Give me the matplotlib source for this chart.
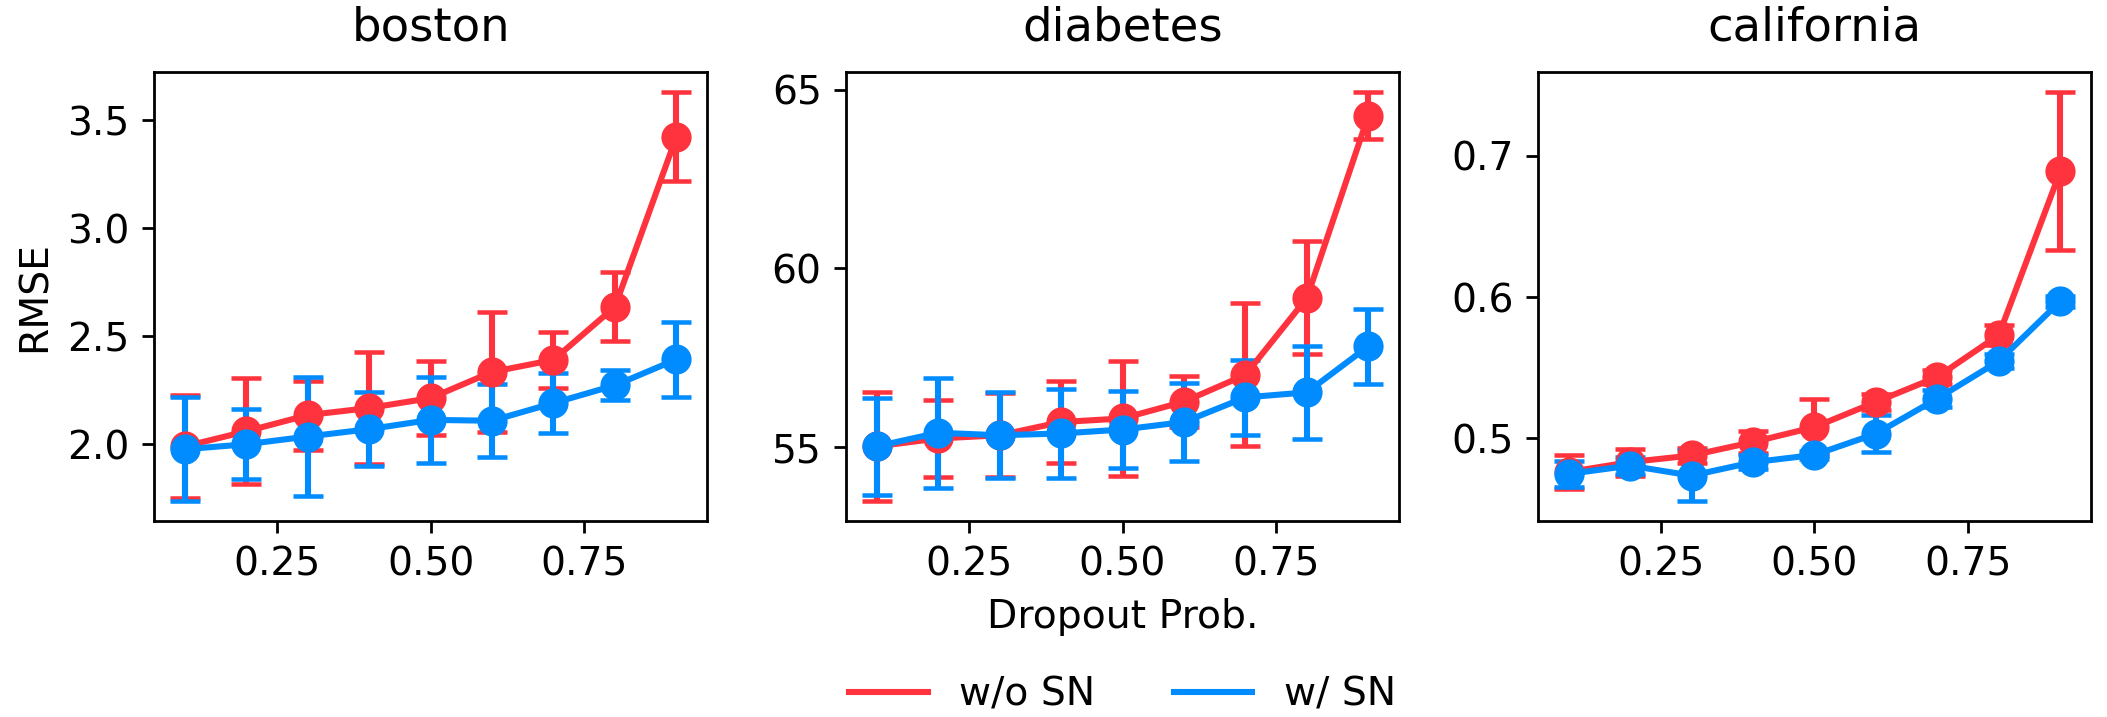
import matplotlib
matplotlib.use("Agg")
import matplotlib.pyplot as plt
from matplotlib.lines import Line2D
import numpy as np

# dropout probabilities
drop_p = [0.1, 0.2, 0.3, 0.4, 0.5, 0.6, 0.7, 0.8, 0.9]

# boston
boston_wo = [1.99, 2.06, 2.135, 2.168, 2.214, 2.335, 2.391, 2.637, 3.425]
boston_wo_err = [0.24, 0.245, 0.16, 0.26, 0.17, 0.28, 0.13, 0.16, 0.205]
boston_w = [1.977, 2.0, 2.036, 2.07, 2.113, 2.109, 2.191, 2.273, 2.393]
boston_w_err = [0.24, 0.163, 0.275, 0.17, 0.2, 0.17, 0.14, 0.07, 0.172]

# diabetes
diab_wo = [55.02, 55.24, 55.33, 55.7, 55.8, 56.27, 57.02, 59.17, 64.27]
diab_wo_err = [1.53, 1.08, 1.17, 1.15, 1.6, 0.72, 2.0, 1.58, 0.65]
diab_w = [55.02, 55.4, 55.33, 55.38, 55.49, 55.7, 56.39, 56.53, 57.82]
diab_w_err = [1.35, 1.54, 1.2, 1.24, 1.07, 1.1, 1.05, 1.3, 1.05]

# california
cal_wo = [0.476, 0.483, 0.4877, 0.4972, 0.5078, 0.5256, 0.5434, 0.573, 0.689]
cal_wo_err = [0.0123, 0.0095, 0.005, 0.0078, 0.02, 0.0055, 0.005, 0.007, 0.056]
cal_w = [0.4746, 0.4805, 0.4734, 0.4829, 0.4881, 0.5031, 0.528, 0.5546, 0.597]
cal_w_err = [0.009, 0.006, 0.018, 0.005, 0.003, 0.013, 0.006, 0.005, 0.004]

titles = ["boston", "diabetes", "california"]
yticks = [[2.0, 2.5, 3.0, 3.5], [55, 60, 65], [0.5, 0.6, 0.7]]
data = [(boston_wo, boston_wo_err, boston_w, boston_w_err),
        (diab_wo, diab_wo_err, diab_w, diab_w_err),
        (cal_wo, cal_wo_err, cal_w, cal_w_err)]

red = "#ff333d"
blue = "#008cff"

plt.rcParams["font.size"] = 11.3
plt.rcParams["axes.titlesize"] = 13.4

fig, axes = plt.subplots(1, 3, figsize=(2107 / 250, 717 / 250), dpi=250)
fig.subplots_adjust(left=0.0731, right=0.9924, bottom=0.2727, top=0.8996, wspace=0.251)

for ax, title, yt, (wo, wo_e, w, w_e) in zip(axes, titles, yticks, data):
    ax.errorbar(drop_p, wo, yerr=wo_e, fmt="-o", color=red, lw=1.75,
                elinewidth=1.75, capsize=4.3, capthick=1.3, markersize=7.7)
    ax.errorbar(drop_p, w, yerr=w_e, fmt="-o", color=blue, lw=1.75,
                elinewidth=1.75, capsize=4.3, capthick=1.3, markersize=7.7)
    ax.set_title(title, pad=9)
    ax.set_xlim(0.05, 0.95)
    ax.set_xticks([0.25, 0.5, 0.75])
    ax.set_yticks(yt)

axes[0].set_ylabel("RMSE")
axes[1].set_xlabel("Dropout Prob.")

handles = [Line2D([], [], color=red, lw=1.75), Line2D([], [], color=blue, lw=1.75)]
cx = (axes[1].get_position().x0 + axes[1].get_position().x1) / 2
fig.legend(handles, ["w/o SN", "w/ SN"], loc="center", ncol=2, frameon=False,
           bbox_to_anchor=(cx, 0.031))

fig.savefig("out.png", dpi=250)
